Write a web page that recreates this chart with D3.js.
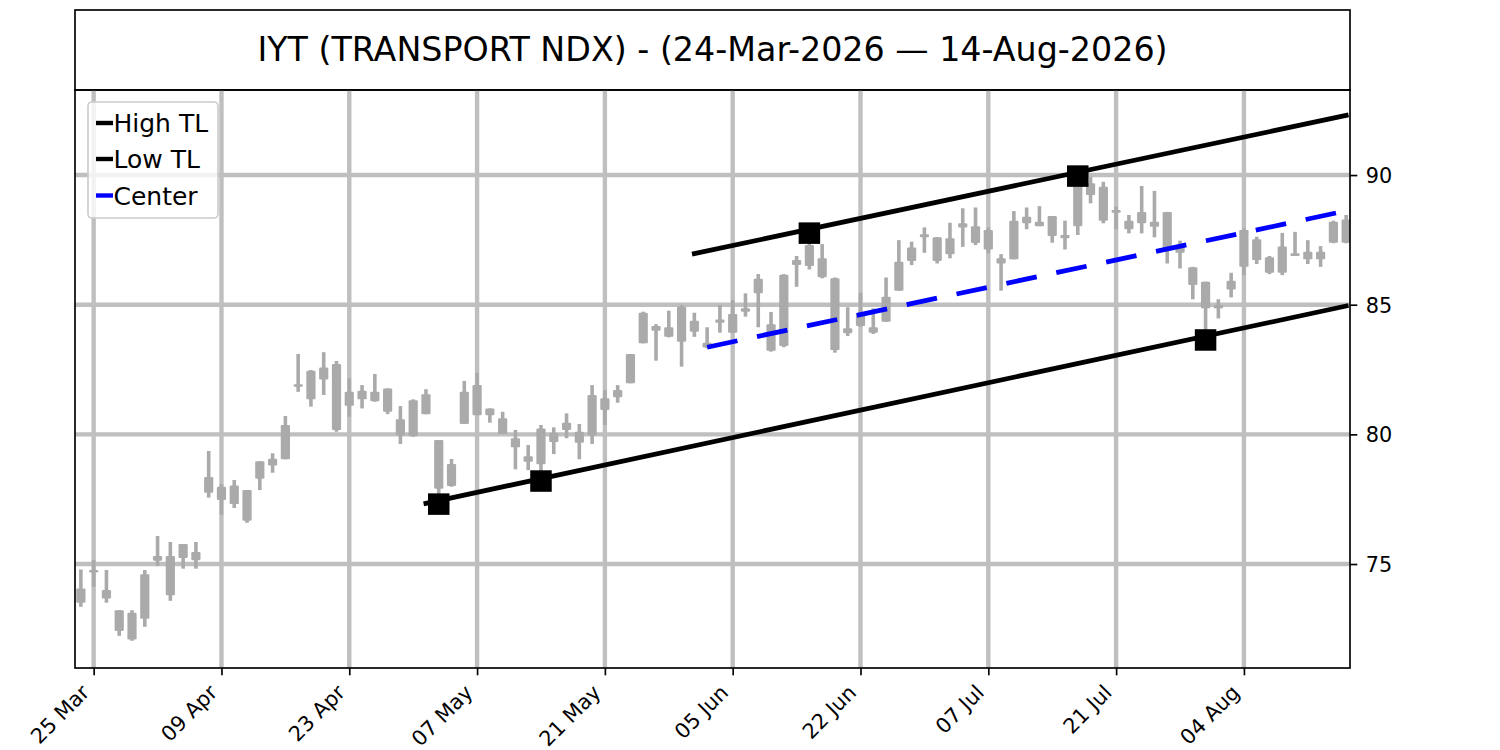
<!DOCTYPE html>
<html>
<head>
<meta charset="utf-8">
<script src="https://cdn.jsdelivr.net/npm/d3@7/dist/d3.min.js"></script>
<style>
  html, body { margin: 0; padding: 0; background: #fff; }
  svg { display: block; font-family: "DejaVu Sans", sans-serif; }
</style>
</head>
<body>
<svg id="chart" width="1500" height="750"></svg>
<script>
// ---------------- DATA ----------------
const titleText = "IYT (TRANSPORT NDX) - (24-Mar-2026 \u2014 14-Aug-2026)";

// trading-day index of each candle: 0 .. 99 (24-Mar-2026 .. 14-Aug-2026)
const open = [
  73.51, 74.67, 74.00, 73.22, 73.12, 72.89, 75.13, 75.31, 75.23, 75.46,
  77.75, 77.98, 78.03, 77.85, 78.29, 78.80, 79.04, 81.84, 81.35, 82.12,
  82.71, 81.64, 81.35, 81.64, 81.77, 80.58, 79.93, 80.78, 79.78, 78.86,
  80.40, 80.74, 81.00, 80.62, 79.85, 79.16, 78.85, 79.71, 80.17, 80.10,
  79.97, 80.94, 81.43, 81.97, 83.51, 84.18, 84.13, 83.57, 84.38, 83.53,
  84.30, 84.64, 84.73, 85.44, 84.25, 83.41, 86.53, 86.49, 86.79, 86.02,
  84.09, 84.18, 84.13, 84.34, 85.54, 86.69, 87.60, 87.60, 86.95, 87.98,
  88.03, 87.88, 86.79, 86.75, 88.14, 88.20, 88.42, 87.69, 88.03, 89.23,
  89.55, 88.65, 88.24, 88.14, 88.20, 88.58, 87.30, 86.44, 85.89, 84.99,
  85.59, 86.46, 87.52, 86.83, 86.23, 86.88, 87.04, 87.04, 87.39, 87.39
];
const high = [
  74.79, 75.15, 74.77, 73.22, 73.22, 74.77, 76.08, 75.85, 75.77, 75.85,
  79.36, 78.08, 78.24, 77.85, 78.96, 79.27, 80.71, 83.10, 82.48, 83.17,
  82.83, 82.16, 81.90, 82.33, 81.77, 81.09, 81.35, 81.74, 79.78, 79.05,
  82.06, 82.38, 81.00, 80.87, 80.17, 79.59, 80.36, 80.27, 80.81, 80.40,
  81.90, 81.71, 81.90, 83.10, 84.73, 84.25, 84.77, 84.99, 84.69, 84.13,
  84.99, 85.18, 85.44, 86.18, 84.72, 86.18, 86.88, 87.76, 87.34, 86.05,
  84.90, 85.46, 84.86, 86.05, 87.49, 87.43, 87.98, 87.60, 88.16, 88.72,
  88.75, 87.98, 86.95, 88.61, 88.75, 88.80, 88.42, 88.24, 89.96, 89.93,
  89.74, 88.78, 88.46, 89.58, 89.39, 88.58, 87.47, 86.46, 85.89, 85.21,
  86.23, 87.94, 87.62, 86.88, 87.77, 87.81, 87.49, 87.26, 88.24, 88.46
];
const low = [
  73.35, 74.12, 73.51, 72.23, 72.04, 72.58, 74.92, 73.58, 74.82, 74.82,
  77.56, 76.90, 77.16, 76.59, 77.85, 78.52, 79.04, 81.64, 81.07, 81.52,
  80.10, 80.68, 81.00, 81.26, 80.78, 79.63, 79.91, 80.78, 77.31, 77.98,
  80.40, 80.74, 80.45, 80.01, 78.65, 78.62, 78.20, 79.24, 79.85, 79.04,
  79.63, 80.36, 81.22, 81.97, 83.51, 82.84, 83.74, 82.61, 83.76, 83.32,
  83.92, 83.92, 84.54, 84.13, 83.19, 83.36, 85.69, 86.36, 86.02, 83.15,
  83.79, 84.15, 83.87, 84.34, 85.54, 86.53, 87.00, 86.59, 86.79, 87.23,
  87.30, 86.98, 85.54, 86.75, 87.91, 88.03, 87.39, 87.13, 87.69, 88.91,
  88.14, 87.91, 87.75, 87.75, 87.60, 86.59, 86.40, 85.21, 83.64, 84.47,
  85.28, 86.14, 86.57, 86.18, 86.14, 86.88, 86.57, 86.46, 87.37, 87.37
];
const close = [
  74.06, 74.77, 73.67, 72.42, 72.09, 74.61, 75.31, 73.80, 75.77, 75.15,
  78.36, 77.47, 77.31, 76.67, 78.96, 79.06, 80.36, 81.93, 82.45, 82.58,
  80.17, 81.10, 81.68, 81.28, 80.87, 79.97, 81.32, 81.55, 77.90, 78.01,
  81.64, 81.90, 80.74, 80.01, 79.50, 78.94, 80.23, 80.06, 80.45, 79.68,
  81.52, 81.39, 81.71, 83.10, 84.69, 84.00, 83.76, 84.92, 83.96, 83.35,
  84.43, 83.92, 84.86, 86.00, 83.22, 86.16, 86.72, 87.30, 86.06, 83.25,
  83.90, 84.67, 83.92, 85.31, 86.66, 87.21, 87.72, 86.69, 87.56, 88.14,
  87.38, 87.13, 86.59, 88.24, 88.39, 88.03, 87.65, 87.56, 89.68, 89.68,
  88.24, 88.55, 87.91, 88.58, 88.01, 87.17, 87.00, 85.76, 84.86, 84.86,
  85.92, 87.88, 86.72, 86.23, 87.24, 86.98, 86.75, 86.75, 88.20, 88.29
];

// x tick labels (trading-day index -> label)
const xTickIndex  = [1, 11, 21, 31, 41, 51, 61, 71, 81, 91];
const xTickLabels = ["25 Mar", "09 Apr", "23 Apr", "07 May", "21 May",
                     "05 Jun", "22 Jun", "07 Jul", "21 Jul", "04 Aug"];
const yTickValues = [75, 80, 85, 90];

// trend lines [startIndex, endIndex], [startValue, endValue]
const highTLIndex = [48, 99],  highTLValue = [86.97, 92.30];
const lowTLIndex  = [27, 99],  lowTLValue  = [77.34, 84.95];
const centerIndex = [49, 99],  centerValue = [83.36, 88.62];

// pivot markers
const pivotIndex = [57, 78, 28, 36, 88];
const pivotValue = [87.76, 89.96, 77.31, 78.20, 83.64];

const legendNames  = ["High TL", "Low TL", "Center"];
const legendColors = ["#000000", "#000000", "#0000ff"];

// ---------------- LAYOUT ----------------
const svg = d3.select("#chart");
const L = 75, R = 1350, T = 90, B = 668;
const x = d3.scaleLinear().domain([-0.46, 99.3]).range([L, R]);
const y = d3.scaleLinear().domain([70.99, 93.28]).range([B, T]);
const candles = d3.range(open.length).map(i => ({i, o: open[i], h: high[i], l: low[i], c: close[i]}));

// clip
svg.append("defs").append("clipPath").attr("id", "plotclip")
  .append("rect").attr("x", L).attr("y", T).attr("width", R - L).attr("height", B - T);

// title box
svg.append("rect").attr("x", L).attr("y", 10).attr("width", R - L).attr("height", T - 10)
  .attr("fill", "#fff").attr("stroke", "#000").attr("stroke-width", 1.67);
svg.append("text").attr("x", (L + R) / 2).attr("y", 61).attr("text-anchor", "middle")
  .attr("font-size", 33.3).attr("fill", "#000").text(titleText);

const plot = svg.append("g").attr("clip-path", "url(#plotclip)");

// grid
plot.append("g").selectAll("line").data(xTickIndex).join("line")
  .attr("x1", d => x(d)).attr("x2", d => x(d)).attr("y1", T).attr("y2", B)
  .attr("stroke", "#bfbfbf").attr("stroke-width", 4.4);
plot.append("g").selectAll("line").data(yTickValues).join("line")
  .attr("x1", L).attr("x2", R).attr("y1", d => y(d)).attr("y2", d => y(d))
  .attr("stroke", "#bfbfbf").attr("stroke-width", 4.4);

// candles
const cg = plot.append("g");
const bw = x(0.72) - x(0);
cg.selectAll("line.wick").data(candles).join("line").attr("class", "wick")
  .attr("x1", d => x(d.i)).attr("x2", d => x(d.i))
  .attr("y1", d => y(d.h)).attr("y2", d => y(d.l))
  .attr("stroke", "#aaaaaa").attr("stroke-width", 3.6);
cg.selectAll("rect.body").data(candles).join("rect").attr("class", "body")
  .attr("x", d => x(d.i) - bw / 2).attr("width", bw)
  .attr("y", d => y(Math.max(d.o, d.c)))
  .attr("height", d => Math.max(2.5, y(Math.min(d.o, d.c)) - y(Math.max(d.o, d.c))))
  .attr("rx", 1.2)
  .attr("fill", "#aaaaaa");

// trend lines
function tl(idx, val, color, dash, cap) {
  plot.append("line")
    .attr("x1", x(idx[0])).attr("y1", y(val[0]))
    .attr("x2", x(idx[1])).attr("y2", y(val[1]))
    .attr("stroke", color).attr("stroke-width", 4.8)
    .attr("stroke-linecap", cap)
    .attr("stroke-dasharray", dash);
}
tl(highTLIndex, highTLValue, "#000", null, "square");
tl(lowTLIndex, lowTLValue, "#000", null, "square");
tl(centerIndex, centerValue, "#0000ff", "31,20", "butt");

// pivots
const ms = 21.5;
plot.append("g").selectAll("rect").data(pivotIndex.map((d, k) => ({i: d, v: pivotValue[k]}))).join("rect")
  .attr("x", d => x(d.i) - ms / 2).attr("y", d => y(d.v) - ms / 2)
  .attr("width", ms).attr("height", ms).attr("fill", "#000");

// spines
svg.append("rect").attr("x", L).attr("y", T).attr("width", R - L).attr("height", B - T)
  .attr("fill", "none").attr("stroke", "#000").attr("stroke-width", 1.67);

// y axis (right)
const yAxis = svg.append("g").attr("transform", `translate(${R},0)`)
  .call(d3.axisRight(y).tickValues(yTickValues).tickSize(7.3).tickPadding(8.5).tickFormat(d3.format("d")));
yAxis.select(".domain").remove();
yAxis.selectAll(".tick line").attr("stroke", "#000").attr("stroke-width", 1.67);
yAxis.selectAll(".tick text").attr("font-size", 20.8).attr("font-family", "DejaVu Sans")
  .attr("fill", "#000").attr("dy", "0.36em");

// x axis (bottom)
const xAxis = svg.append("g").attr("transform", `translate(0,${B})`)
  .call(d3.axisBottom(x).tickValues(xTickIndex).tickSize(7.3)
    .tickFormat((d, k) => xTickLabels[k]));
xAxis.select(".domain").remove();
xAxis.selectAll(".tick line").attr("stroke", "#000").attr("stroke-width", 1.67);
xAxis.selectAll(".tick text")
  .attr("font-size", 20.8).attr("font-family", "DejaVu Sans").attr("fill", "#000")
  .attr("text-anchor", "end").attr("x", 0).attr("y", 0).attr("dy", 0)
  .attr("transform", "translate(-3.5,25.8) rotate(-45)");

// legend
const lg = svg.append("g");
lg.append("rect").attr("x", 88).attr("y", 102).attr("width", 130).attr("height", 116)
  .attr("rx", 4).attr("fill", "#fff").attr("fill-opacity", 0.8)
  .attr("stroke", "#cccccc").attr("stroke-width", 1.67);
const rowY = [123, 159, 195.5];
legendNames.forEach((n, k) => {
  lg.append("line").attr("x1", 96).attr("x2", 113).attr("y1", rowY[k]).attr("y2", rowY[k])
    .attr("stroke", legendColors[k]).attr("stroke-width", 4.4);
  lg.append("text").attr("x", 113.5).attr("y", rowY[k] + 9).attr("font-size", 25)
    .attr("fill", "#000").text(n);
});
</script>
</body>
</html>
